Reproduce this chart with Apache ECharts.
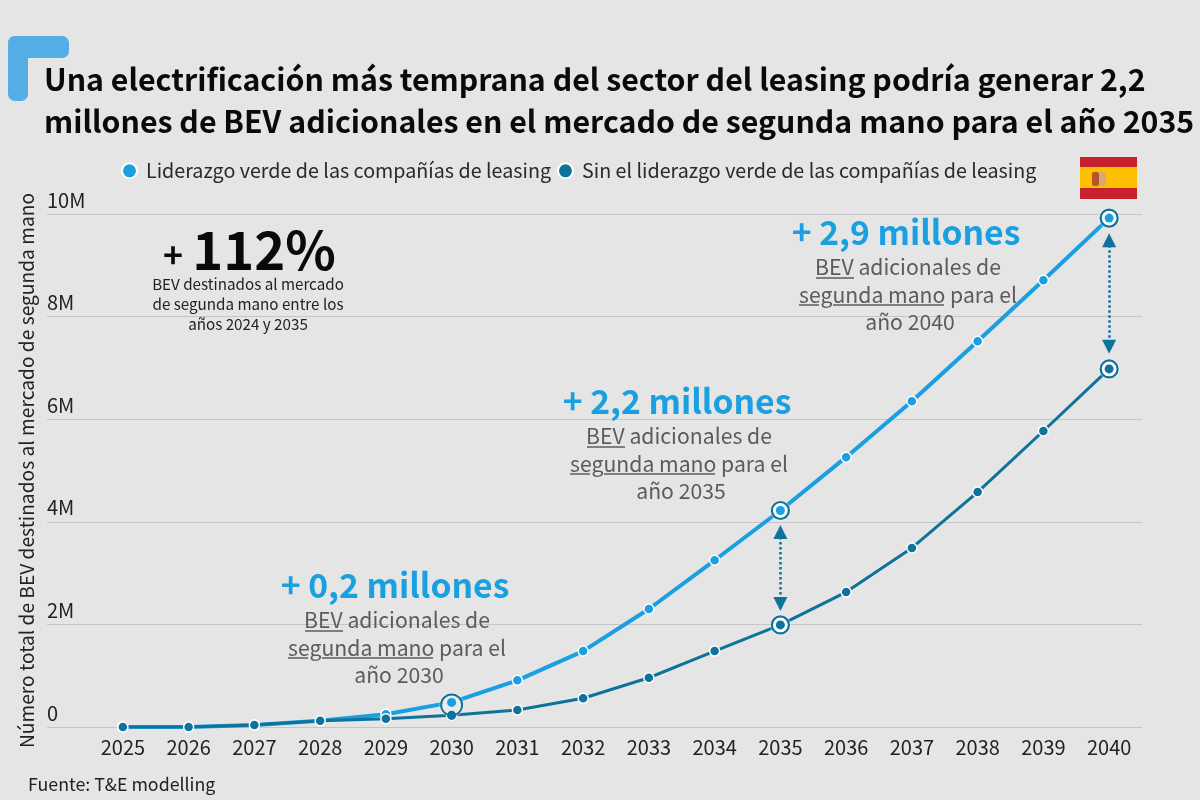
<!DOCTYPE html>
<html>
<head>
<meta charset="utf-8">
<title>BEV segunda mano</title>
<script src="https://cdn.jsdelivr.net/npm/echarts@6/dist/echarts.min.js"></script>
<style>
  html, body { margin: 0; padding: 0; background: #e5e5e5; }
  #chart { width: 1200px; height: 800px; }
</style>
</head>
<body>
<div id="chart"></div>
<script>
var years = ['2025','2026','2027','2028','2029','2030','2031','2032','2033','2034','2035','2036','2037','2038','2039','2040'];
var conLiderazgo = [0, 0, 0.04, 0.12, 0.25, 0.48, 0.91, 1.48, 2.30, 3.25, 4.22, 5.26, 6.35, 7.52, 8.71, 9.92];
var sinLiderazgo = [0, 0, 0.04, 0.12, 0.16, 0.23, 0.33, 0.56, 0.96, 1.48, 1.99, 2.63, 3.49, 4.58, 5.77, 6.98];
var nombreCon = 'Liderazgo verde de las compañías de leasing';
var nombreSin = 'Sin el liderazgo verde de las compañías de leasing';
var anosDestacados = ['2035', '2040'];
var anillo2030 = 0.43;
var flechas = [['2035', 3.80, 2.40], ['2040', 9.49, 7.41]];

var FONT = '"Noto Sans CJK SC", "Noto Sans", sans-serif';
var CLARO = '#1a9fe0', OSCURO = '#0d739b', GRIS = '#5c5c5c';

function punto(serie, y) { return [y, serie[years.indexOf(y)]]; }

function texto(x, y, text, size, fill, weight) {
    return {
        type: 'text', x: x, y: y, silent: true, z: 20,
        style: { text: text, fill: fill, textAlign: 'center', textVerticalAlign: 'middle',
                 font: (weight || 'normal') + ' ' + size + 'px ' + FONT }
    };
}
function raya(x1, x2, y) {
    return { type: 'line', silent: true, z: 20, shape: { x1: x1, y1: y, x2: x2, y2: y },
             style: { stroke: GRIS, lineWidth: 1.5 } };
}
// bloque "+ x millones / BEV adicionales ..." con su subrayado
function nota(cx, cy, grande, ano) {
    return [
        texto(cx, cy, grande, 33.7, CLARO, 'bold'),
        texto(cx + 2, cy + 35, 'BEV adicionales de', 21.2, GRIS),
        texto(cx + 2, cy + 63, 'segunda mano para el', 21.2, GRIS),
        texto(cx + 4, cy + 90, 'año ' + ano, 21.2, GRIS),
        raya(cx - 90, cx - 52, cy + 46),
        raya(cx - 107, cx - 87, cy + 73),
        raya(cx - 73, cx + 38, cy + 73)
    ];
}

var graficos = [
    // esquina azul
    { type: 'rect', shape: { x: 8, y: 36, width: 61, height: 22, r: 7 }, style: { fill: '#55ade6' } },
    { type: 'rect', shape: { x: 8, y: 36, width: 20, height: 65, r: 7 }, style: { fill: '#55ade6' } },
    // bandera
    { type: 'rect', shape: { x: 1080, y: 157, width: 57, height: 42 }, style: { fill: '#c8202c' } },
    { type: 'rect', shape: { x: 1080, y: 167, width: 57, height: 21 }, style: { fill: '#fcc000' } },
    { type: 'rect', shape: { x: 1092, y: 172, width: 7, height: 14, r: 2 }, style: { fill: '#b5552a' } },
    { type: 'rect', shape: { x: 1099, y: 172, width: 7, height: 14, r: 2 }, style: { fill: '#d9a878' } },
    // +112%
    texto(173, 255, '+', 34, '#0a0a0a', 'bold'),
    texto(264, 250, '112%', 52.5, '#0a0a0a', 'bold'),
    texto(248, 284, 'BEV destinados al mercado', 15.2, '#222'),
    texto(248, 304, 'de segunda mano entre los', 15.2, '#222'),
    texto(248, 324, 'años 2024 y 2035', 15.2, '#222'),
    // fuente
    { type: 'text', x: 28, y: 784, silent: true,
      style: { text: 'Fuente: T&E modelling', fill: '#222', font: '17.8px ' + FONT, textVerticalAlign: 'middle' } }
].concat(
    nota(395, 585, '+ 0,2 millones', '2030'),
    nota(677, 401, '+ 2,2 millones', '2035'),
    nota(906, 232, '+ 2,9 millones', '2040')
);

function anillos(serie) {
    return {
        type: 'scatter', z: 5, silent: true, symbolSize: 17,
        itemStyle: { color: '#fff', borderColor: OSCURO, borderWidth: 2.2, opacity: 1, shadowColor: '#fff', shadowBlur: 2 },
        data: anosDestacados.map(function (y) { return punto(serie, y); })
    };
}
function puntos(serie, color) {
    return {
        type: 'scatter', z: 6, silent: true, symbolSize: 9,
        itemStyle: { color: color, opacity: 1 },
        data: anosDestacados.concat(['2030']).map(function (y) { return punto(serie, y); })
    };
}

var chart = echarts.init(document.getElementById('chart'));
chart.setOption({
    animation: false,
    backgroundColor: '#e5e5e5',
    textStyle: { fontFamily: FONT },
    title: {
        text: 'Una electrificación más temprana del sector del leasing podría generar 2,2\nmillones de BEV adicionales en el mercado de segunda mano para el año 2035',
        left: 39, top: 53,
        textStyle: { fontFamily: FONT, fontSize: 30.3, fontWeight: 'bold', color: '#0a0a0a', lineHeight: 42 }
    },
    legend: {
        data: [nombreCon, nombreSin],
        left: 116, top: 156, icon: 'circle', itemWidth: 23, itemHeight: 15, itemGap: 6,
        textStyle: { fontFamily: FONT, fontSize: 19.7, color: '#2a2a2a' }
    },
    grid: { left: 90, right: 58, top: 214, bottom: 73 },
    xAxis: {
        type: 'category', data: years,
        axisLine: { show: false }, axisTick: { show: false },
        axisLabel: { fontSize: 20, color: '#222', margin: 10, interval: 0 }
    },
    yAxis: {
        type: 'value', min: 0, max: 10, interval: 2,
        name: 'Número total de BEV destinados al mercado de segunda mano',
        nameLocation: 'middle', nameGap: 52, nameRotate: 90,
        nameTextStyle: { fontSize: 19.2, color: '#222', fontFamily: FONT },
        axisLine: { show: false },
        axisTick: { show: true, length: 43, lineStyle: { color: '#c6c6c6', width: 1 } },
        splitLine: { lineStyle: { color: '#c6c6c6', width: 1 } },
        axisLabel: {
            fontSize: 20, color: '#222', margin: 43, align: 'left', verticalAlign: 'bottom', lineHeight: 28,
            formatter: function (v) { return v === 0 ? '0' : v + 'M'; }
        }
    },
    series: [
        {
            name: nombreCon, type: 'line', z: 3, data: conLiderazgo, color: CLARO,
            symbol: 'circle', symbolSize: 10, showSymbol: true,
            lineStyle: { color: CLARO, width: 4 },
            itemStyle: { color: CLARO, borderColor: '#fff', borderWidth: 1.5 }
        },
        {
            name: nombreSin, type: 'line', z: 4, data: sinLiderazgo, color: OSCURO,
            symbol: 'circle', symbolSize: 10, showSymbol: true,
            lineStyle: { color: OSCURO, width: 3 },
            itemStyle: { color: OSCURO, borderColor: '#fff', borderWidth: 1.5 },
            markLine: {
                silent: true, symbol: ['triangle', 'triangle'], symbolSize: [14, 14], precision: 2,
                lineStyle: { color: OSCURO, type: 'dotted', width: 2.5 },
                itemStyle: { color: OSCURO }, label: { show: false },
                data: flechas.map(function (f) {
                    return [{ coord: [f[0], f[1]] }, { coord: [f[0], f[2]] }];
                })
            }
        },
        anillos(conLiderazgo),
        anillos(sinLiderazgo),
        // anillo grande de 2030
        {
            type: 'scatter', z: 5, silent: true, symbolSize: 21,
            itemStyle: { color: '#ebebeb', borderColor: OSCURO, borderWidth: 2, opacity: 1, shadowColor: '#fff', shadowBlur: 2 },
            data: [['2030', anillo2030]]
        },
        puntos(conLiderazgo, CLARO),
        puntos(sinLiderazgo, OSCURO)
    ],
    graphic: graficos
});
</script>
</body>
</html>
